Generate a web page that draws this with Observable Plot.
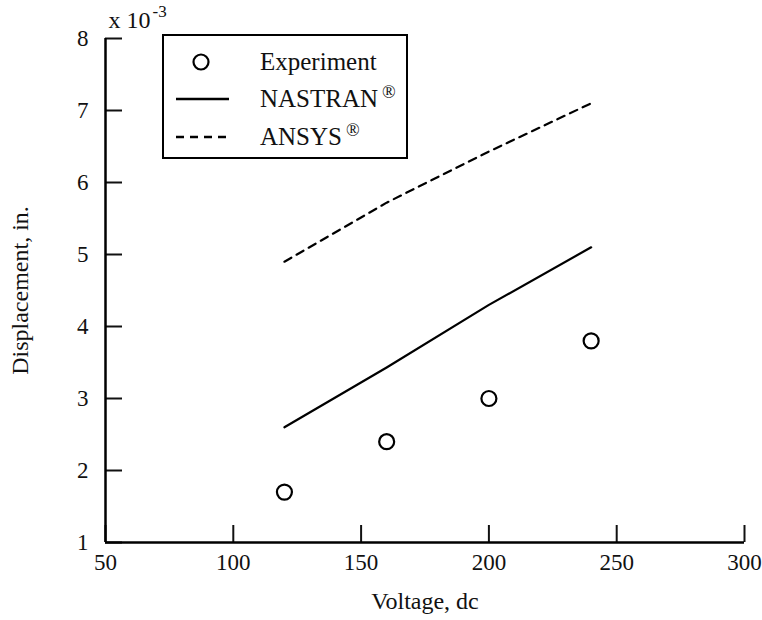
<!DOCTYPE html>
<html>
<head>
<meta charset="utf-8">
<script src="https://cdn.jsdelivr.net/npm/d3@7"></script>
<script src="https://cdn.jsdelivr.net/npm/@observablehq/plot@0.6"></script>
<style>
  html, body { margin: 0; padding: 0; background: #fff; }
  #wrap { position: relative; width: 762px; height: 620px; font-family: "Liberation Serif", "Times New Roman", serif; }
  #legend { position: absolute; left: 162px; top: 34px; width: 242px; height: 121px; border: 2.5px solid #000; background: #fff; }
  #legend .row { position: absolute; left: 0; height: 30px; width: 100%; }
  #legend svg { position: absolute; left: 0; top: 0; }
  #legend .lbl { position: absolute; left: 96px; top: 0; line-height: 30px; font-size: 25px; color: #111; white-space: nowrap; }
  #legend sup { font-size: 18px; vertical-align: 0; position: relative; top: -9px; margin-left: 4px; }
</style>
</head>
<body>
<div id="wrap"></div>
<script>
const volts = [120, 160, 200, 240];
const experiment = [1.7, 2.4, 3.0, 3.8];
const nastran = [2.6, 3.43, 4.3, 5.1];
const ansys = [4.9, 5.72, 6.43, 7.1];
const xTicks = [50, 100, 150, 200, 250, 300];
const yTicks = [1, 2, 3, 4, 5, 6, 7, 8];
const seriesNames = ["Experiment", "NASTRAN", "ANSYS"];

const rows = (vals) => volts.map((v, i) => ({x: v, y: vals[i]}));

const chart = Plot.plot({
  width: 762,
  height: 620,
  marginLeft: 105,
  marginRight: 18,
  marginTop: 38,
  marginBottom: 78,
  style: {fontFamily: "Liberation Serif", fontSize: "24px", color: "#111", background: "white", overflow: "visible"},
  x: {domain: [50, 300]},
  y: {domain: [1, 8]},
  marks: [
    Plot.axisX(xTicks, {tickSize: -17, tickPadding: 28, strokeWidth: 2, fontSize: 23, tickFormat: d => d, label: null}),
    Plot.axisX({ticks: [], tickSize: 0, fontSize: 24, label: "Voltage, dc", labelAnchor: "center", labelOffset: 66, labelArrow: "none"}),
    Plot.axisY(yTicks, {tickSize: -17, tickPadding: 34, strokeWidth: 2, fontSize: 23, tickFormat: d => d, label: null}),
    Plot.axisY({ticks: [], tickSize: 0, fontSize: 24, label: "Displacement, in.", labelAnchor: "center", labelOffset: 95, labelArrow: "none"}),
    Plot.ruleY([1], {stroke: "#000", strokeWidth: 2.5}),
    Plot.ruleX([50], {stroke: "#000", strokeWidth: 2.5}),
    Plot.line(rows(ansys), {x: "x", y: "y", stroke: "#000", strokeWidth: 2.2, strokeDasharray: "8,6"}),
    Plot.line(rows(nastran), {x: "x", y: "y", stroke: "#000", strokeWidth: 2.2}),
    Plot.dot(rows(experiment), {x: "x", y: "y", r: 7.5, stroke: "#000", strokeWidth: 2.2, fill: "none"}),
    Plot.text(["x 10"], {frameAnchor: "top-left", textAnchor: "start", lineAnchor: "middle", dx: 3, dy: -18, fontSize: 24, fill: "#111"}),
    Plot.text(["-3"], {frameAnchor: "top-left", textAnchor: "start", lineAnchor: "middle", dx: 47, dy: -27, fontSize: 17, fill: "#111"})
  ]
});
document.getElementById("wrap").appendChild(chart);

const legend = document.createElement("div");
legend.id = "legend";
const sym = [
  '<circle cx="37" cy="15" r="7.5" fill="none" stroke="#000" stroke-width="2.2"/>',
  '<line x1="12" x2="65" y1="15" y2="15" stroke="#000" stroke-width="2.5"/>',
  '<line x1="12" x2="65" y1="15" y2="15" stroke="#000" stroke-width="2.5" stroke-dasharray="8,6"/>'
];
const labels = [seriesNames[0], seriesNames[1] + '<sup>®</sup>', seriesNames[2] + '<sup>®</sup>'];
const tops = [11, 48, 86];
labels.forEach((l, i) => {
  const r = document.createElement("div");
  r.className = "row";
  r.style.top = tops[i] + "px";
  r.innerHTML = '<svg width="80" height="30">' + sym[i] + '</svg><span class="lbl">' + l + '</span>';
  legend.appendChild(r);
});
document.getElementById("wrap").appendChild(legend);
</script>
</body>
</html>
